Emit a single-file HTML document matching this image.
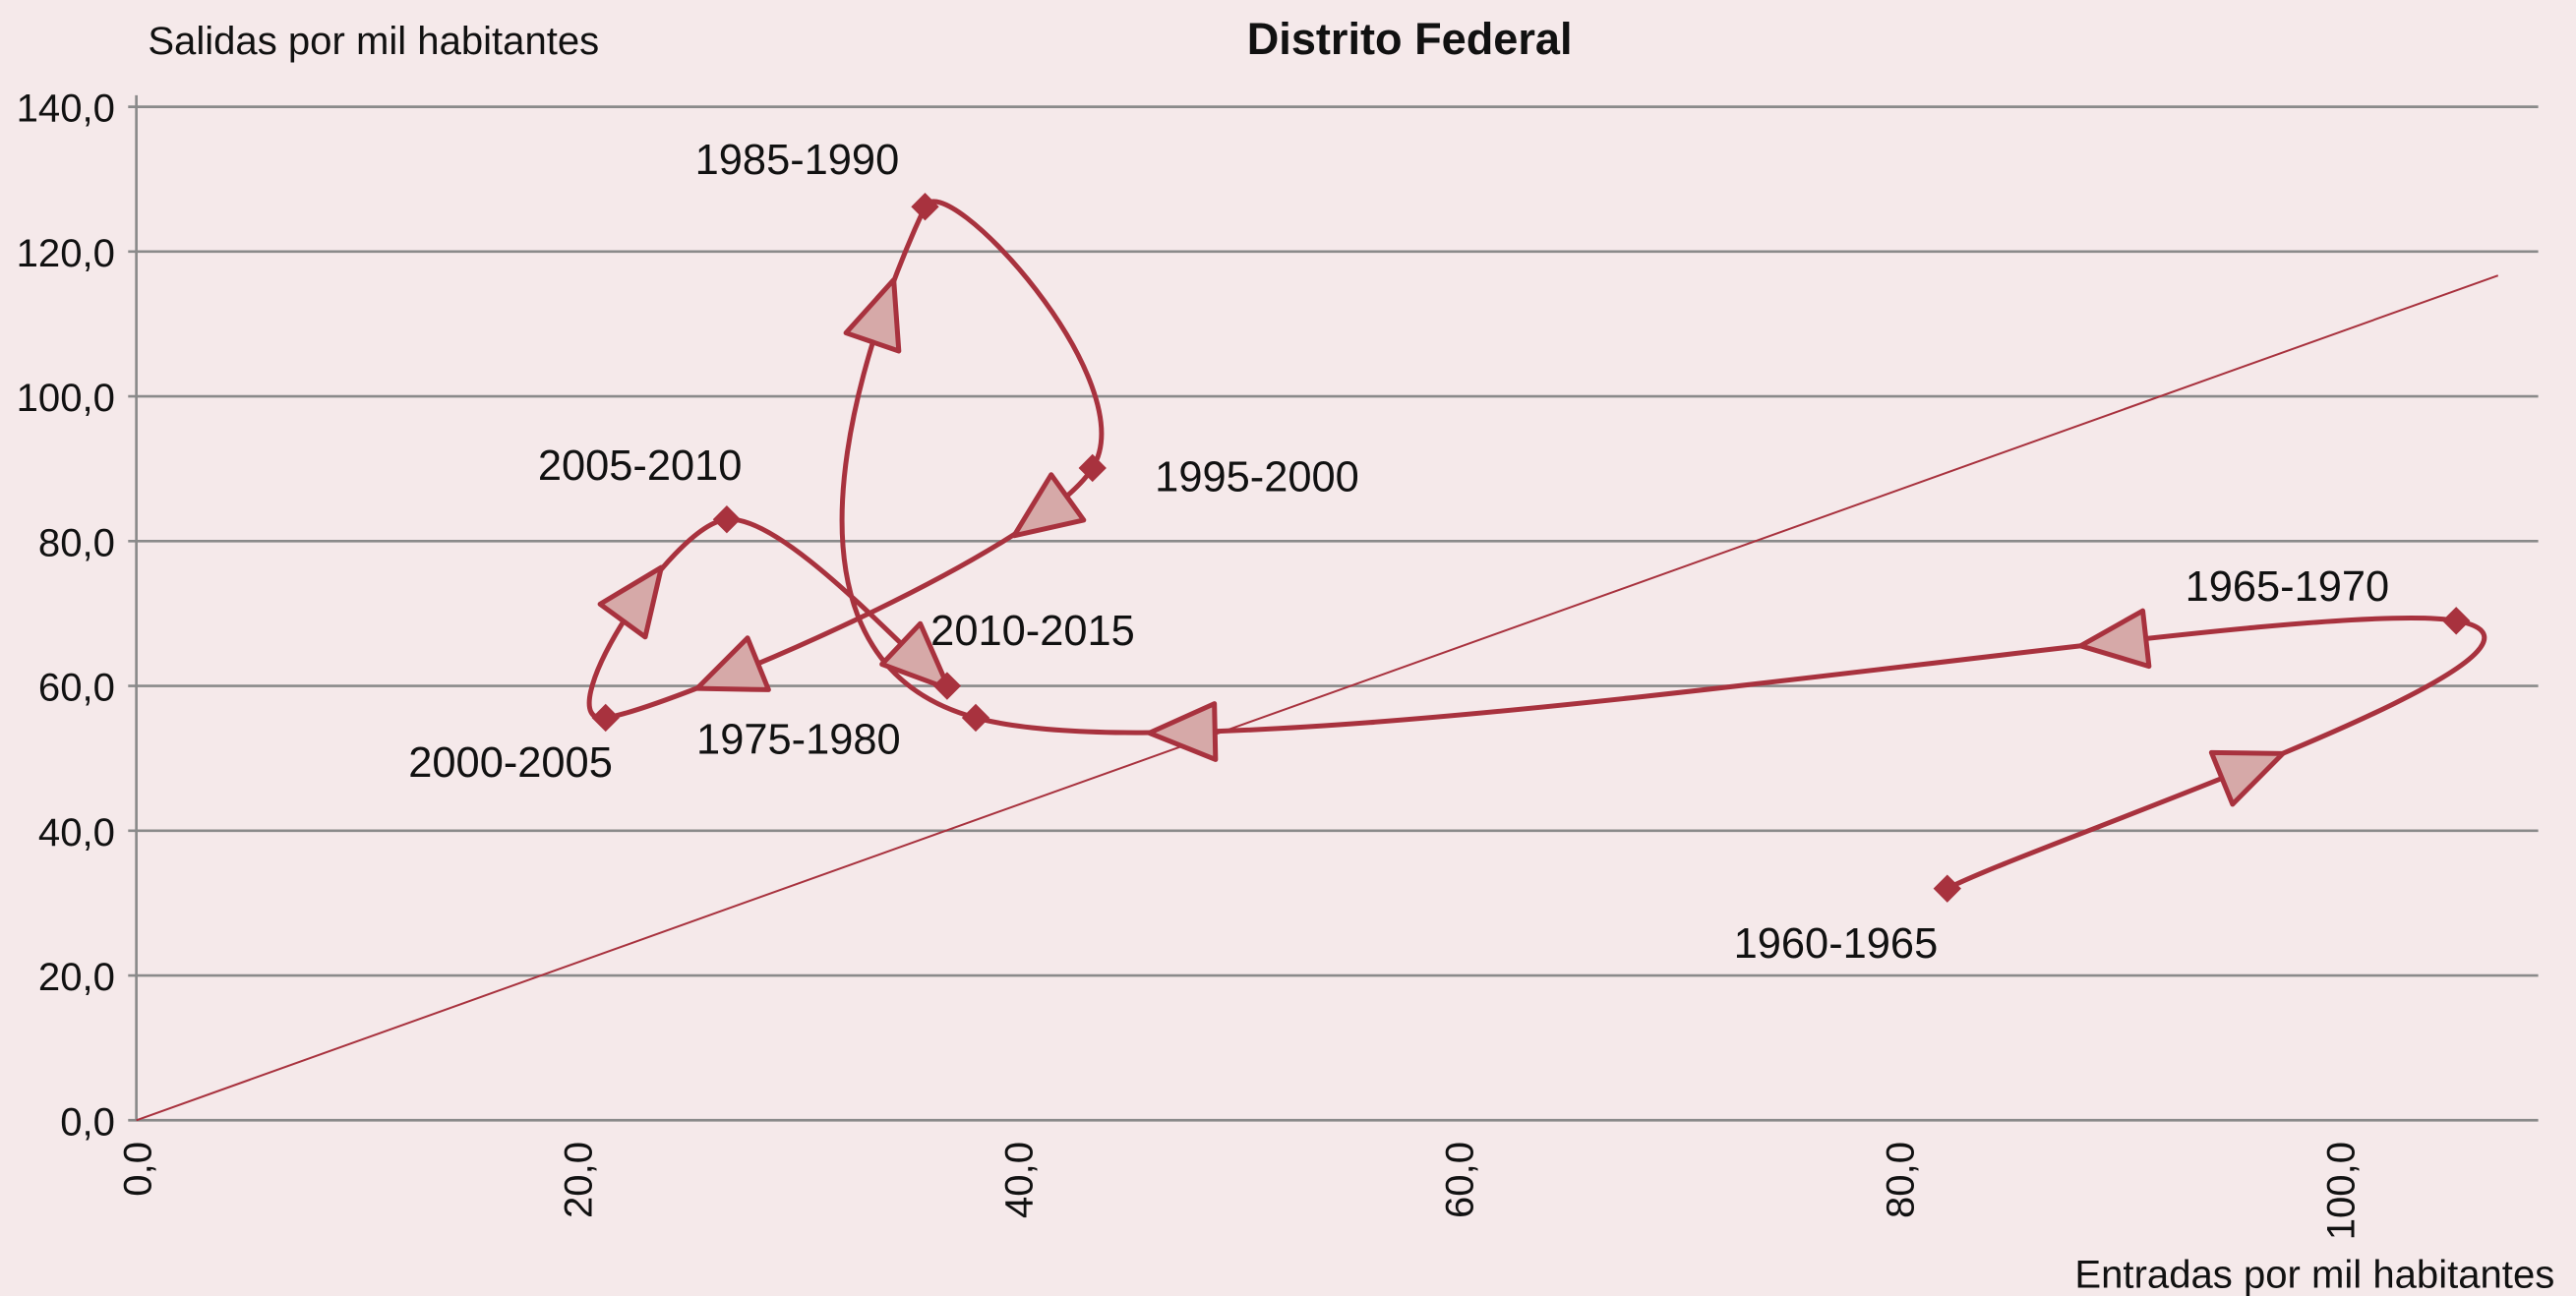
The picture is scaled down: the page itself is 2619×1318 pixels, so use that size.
<!DOCTYPE html>
<html><head><meta charset="utf-8"><style>
html,body{margin:0;padding:0;background:#f5e9ea;}
svg{display:block;}
text{font-family:"Liberation Sans Narrow","Liberation Sans",sans-serif;fill:#111;}
</style></head><body>
<svg id="chart" width="2619" height="1318" viewBox="0 0 1568 789" preserveAspectRatio="none">
<rect width="1568" height="789" fill="#f5e9ea"/>
<text x="858" y="33" font-size="27" font-weight="bold" text-anchor="middle">Distrito Federal</text>
<text x="90" y="33" font-size="24">Salidas por mil habitantes</text>
<text x="1555" y="784" font-size="24" text-anchor="end">Entradas por mil habitantes</text>
<g id="grid"></g><g id="axes"></g><g id="series"></g><g id="labels"></g>
</svg>
<script>
const yTicks=[0,20,40,60,80,100,120,140];
const yTickLabels=["0,0","20,0","40,0","60,0","80,0","100,0","120,0","140,0"];
const xTicks=[0,20,40,60,80,100];
const xTickLabels=["0,0","20,0","40,0","60,0","80,0","100,0"];
const periods=["1960-1965","1965-1970","1975-1980","1985-1990","1995-2000","2000-2005","2005-2010","2010-2015"];
const entradas=[82.2,105.3,38.1,35.8,43.4,21.3,26.8,36.8];
const salidas=[32.0,69.0,55.6,126.2,90.1,55.6,83.0,60.0];
const showLabel=[true,true,true,true,true,true,true,true];
const refLine=[[0,0],[107.2,116.7]];
const arrowSeg=[0,1,1,2,4,4,5,6];
const arrowT=[0.45,0.3,0.82,0.72,0.17,0.7,0.6,0.85];

const X=v=>83+v*13.41, Y=v=>682-v*4.407;
const NS="http://www.w3.org/2000/svg";
function mk(tag,attrs,parent){const e=document.createElementNS(NS,tag);for(const k in attrs)e.setAttribute(k,attrs[k]);parent.appendChild(e);return e;}
const grid=document.getElementById('grid'),axes=document.getElementById('axes'),series=document.getElementById('series'),labels=document.getElementById('labels');
yTicks.forEach((t,i)=>{
 const l=mk('line',{x1:78,x2:1545,y1:Y(t),y2:Y(t),stroke:'#8a8a8a','stroke-width':1.6},grid);
 
 
 const tx=mk('text',{x:70,y:Y(t)+9,'font-size':24,'text-anchor':'end'},axes);tx.textContent=yTickLabels[i];
 
 
});
xTicks.forEach((t,i)=>{
 const tx=mk('text',{x:0,y:0,'font-size':24,'text-anchor':'end',transform:`translate(${X(t)+9},695) rotate(-90)`},axes);tx.textContent=xTickLabels[i];
 
 
});
const ax=mk('line',{x1:83,x2:83,y1:58,y2:682,stroke:'#8a8a8a','stroke-width':1.6},axes);


const rl=mk('line',{x1:X(refLine[0][0]),y1:Y(refLine[0][1]),x2:X(refLine[1][0]),y2:Y(refLine[1][1]),stroke:'#a8323e','stroke-width':1.2},series);


const P=entradas.map((e,i)=>[X(e),Y(salidas[i])]);
const segs=[];
for(let i=0;i<P.length-1;i++){
 const p0=P[Math.max(0,i-1)],p1=P[i],p2=P[i+1],p3=P[Math.min(P.length-1,i+2)];
 const c1=[p1[0]+(p2[0]-p0[0])/6,p1[1]+(p2[1]-p0[1])/6];
 const c2=[p2[0]-(p3[0]-p1[0])/6,p2[1]-(p3[1]-p1[1])/6];
 segs.push([p1,c1,c2,p2]);
}
let d=`M${P[0][0]},${P[0][1]}`;
segs.forEach(s=>{d+=` C${s[1][0]},${s[1][1]} ${s[2][0]},${s[2][1]} ${s[3][0]},${s[3][1]}`;});
const path=mk('path',{d:d,fill:'none',stroke:'#a8323e','stroke-width':3},series);


function bez(s,t){const u=1-t;return [0,1].map(k=>u*u*u*s[0][k]+3*u*u*t*s[1][k]+3*u*t*t*s[2][k]+t*t*t*s[3][k]);}
function dbez(s,t){const u=1-t;return [0,1].map(k=>3*u*u*(s[1][k]-s[0][k])+6*u*t*(s[2][k]-s[1][k])+3*t*t*(s[3][k]-s[2][k]));}
arrowSeg.forEach((si,i)=>{
 const s=segs[si],p=bez(s,arrowT[i]),dv=dbez(s,arrowT[i]);
 const a=Math.atan2(dv[1],dv[0])*180/Math.PI;
 const tr=mk('polygon',{points:'20,0 -20,-17 -20,17',fill:'#d6a9a8',stroke:'#a8323e','stroke-width':3,'stroke-linejoin':'round',transform:`translate(${p[0]},${p[1]}) rotate(${a})`},series);
 
 
});
const labelOff=[[-130,42],[-165,-12],[-170,22],[-140,-20],[38,14],[-120,36],[-115,-24],[-10,-25]];
P.forEach((p,i)=>{
 const m=mk('rect',{x:-6,y:-6,width:12,height:12,fill:'#a8323e',transform:`translate(${p[0]},${p[1]}) rotate(45)`},series);
 
 
 if(showLabel[i]){
  const t=mk('text',{x:p[0]+labelOff[i][0],y:p[1]+labelOff[i][1],'font-size':26},labels);t.textContent=periods[i];
  
  
 }
});
</script>
</body></html>
